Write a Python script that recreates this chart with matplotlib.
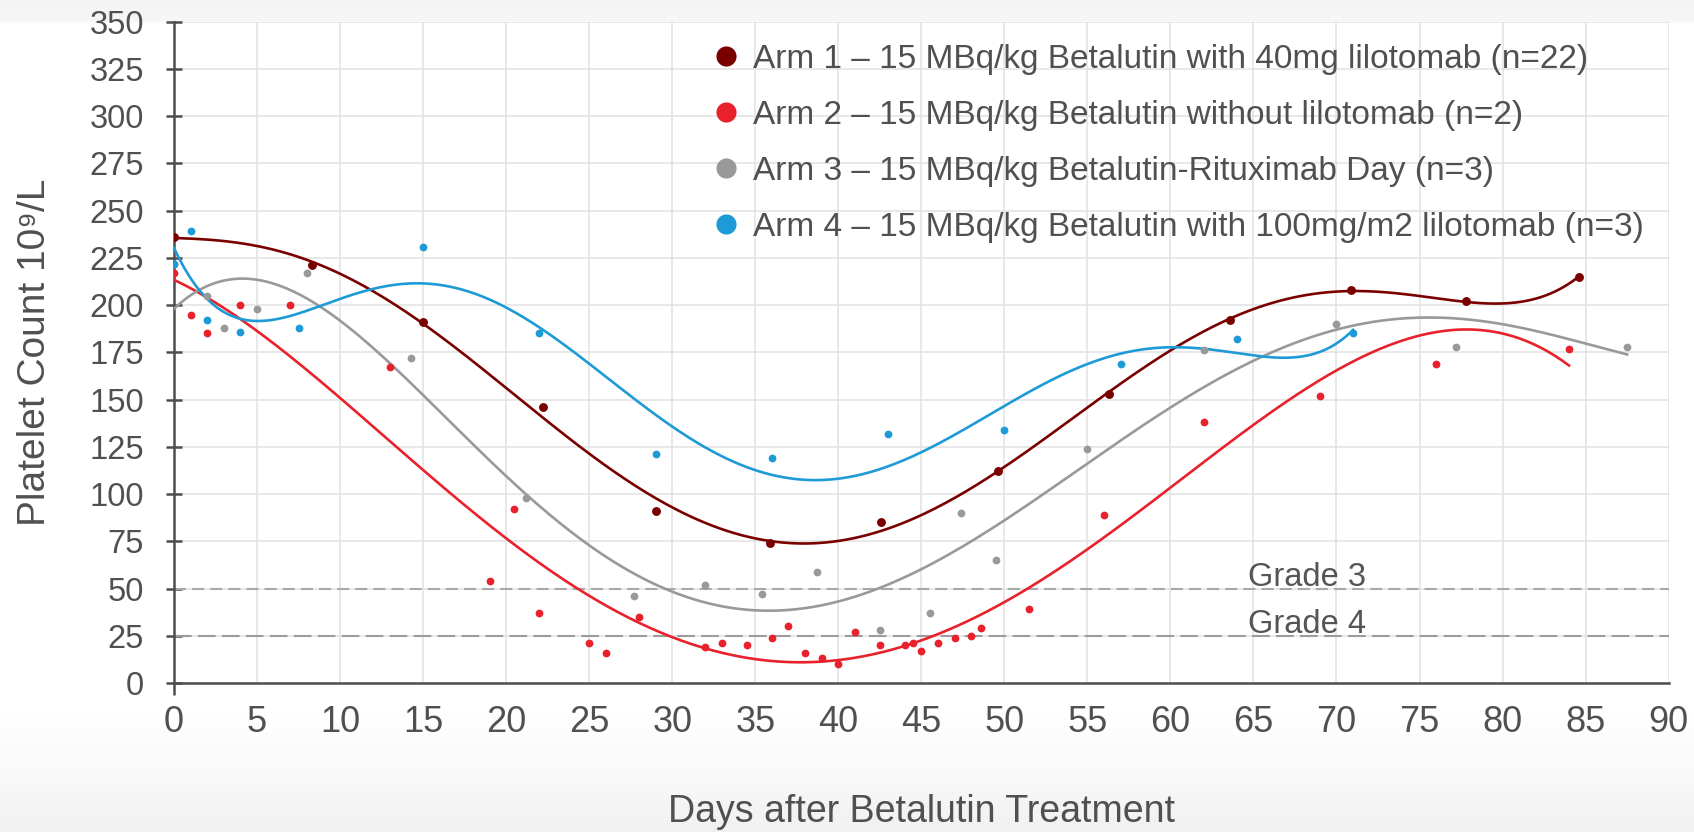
import numpy as np
import matplotlib
matplotlib.use('Agg')
import matplotlib.pyplot as plt
from matplotlib.lines import Line2D

plt.rcParams['font.family'] = ['Liberation Sans', 'DejaVu Sans']

# Arm 1 - 15 MBq/kg Betalutin with 40mg lilotomab
arm1_days = [0, 8.3, 15, 22.2, 29, 35.9, 42.6, 49.6, 56.3, 63.6, 70.9, 77.8, 84.6]
arm1_plt = [236, 221, 191, 146, 91, 74, 85, 112, 153, 192, 208, 202, 215]

# Arm 2 - 15 MBq/kg Betalutin without lilotomab
arm2_days = [0, 1, 2, 4, 7, 13, 19, 20.5, 22, 25, 26, 28, 32, 33, 34.5, 36, 37, 38, 39,
             40, 41, 42.5, 44, 44.5, 45, 46, 47, 48, 48.6, 51.5, 56, 62, 69, 76, 84]
arm2_plt = [217, 195, 185, 200, 200, 167, 54, 92, 37, 21, 16, 35, 19, 21, 20, 24, 30, 16, 13,
            10, 27, 20, 20, 21, 17, 21, 24, 25, 29, 39, 89, 138, 152, 169, 177]

# Arm 3 - 15 MBq/kg Betalutin-Rituximab Day (day 0 point sits under the arm 4 marker)
arm3_days = [0, 2, 3, 5, 8, 14.3, 21.2, 27.7, 32, 35.4, 38.7, 42.5, 45.5, 47.4, 49.5, 55, 62, 70, 77.2, 87.5]
arm3_plt = [222, 205, 188, 198, 217, 172, 98, 46, 52, 47, 59, 28, 37, 90, 65, 124, 176, 190, 178, 178]

# Arm 4 - 15 MBq/kg Betalutin with 100mg/m2 lilotomab
arm4_days = [0, 1, 2, 4, 7.5, 15, 22, 29, 36, 43, 50, 57, 64, 71]
arm4_plt = [222, 239, 192, 186, 188, 231, 185, 121, 119, 132, 134, 169, 182, 185]

arm_labels = [
    'Arm 1 \u2013 15 MBq/kg Betalutin with 40mg lilotomab (n=22)',
    'Arm 2 \u2013 15 MBq/kg Betalutin without lilotomab (n=2)',
    'Arm 3 \u2013 15 MBq/kg Betalutin-Rituximab Day (n=3)',
    'Arm 4 \u2013 15 MBq/kg Betalutin with 100mg/m2 lilotomab (n=3)',
]
arm_colors = ['#7a0000', '#e8212c', '#999999', '#1e9ad6']
trend_order = [6, 4, 5, 6]

grade_levels = [50, 25]
grade_labels = ['Grade 3', 'Grade 4']

W, H = 1694, 832
fig = plt.figure(figsize=(W / 100, H / 100), dpi=100)

# soft grey fade at the top and bottom of the picture
bg = fig.add_axes([0, 0, 1, 1], zorder=-10)
rows = np.arange(H)
shade = np.interp(rows, [0, 20, 24, 700, 770, 832], [0.955, 0.962, 1.0, 1.0, 0.975, 0.94])
bg.imshow(np.repeat(shade[:, None], 2, axis=1), cmap='gray', vmin=0, vmax=1, aspect='auto',
          extent=[0, 1, 0, 1], origin='upper')
bg.axis('off')

x0, x1 = 174.0, 1668.6
y0, y1 = 683.0, 21.7
ax = fig.add_axes([x0 / W, 1 - y0 / H, (x1 - x0) / W, (y0 - y1) / H])
ax.set_facecolor('white')

series = [(arm1_days, arm1_plt), (arm2_days, arm2_plt), (arm3_days, arm3_plt), (arm4_days, arm4_plt)]
for i, (d, p) in enumerate(series):
    d = np.array(d, dtype=float)
    p = np.array(p, dtype=float)
    # polynomial trendline over the span of each arm
    coef = np.polyfit(d, p, trend_order[i])
    xs = np.linspace(d.min(), d.max(), 400)
    ax.plot(xs, np.polyval(coef, xs), color=arm_colors[i], lw=1.9, zorder=3 + i * 0.1)
    ms = 6.4 if i == 0 else 5.6
    ax.plot(d, p, 'o', color=arm_colors[i], ms=ms, mec='none', zorder=4 + i * 0.1)

ax.axhline(grade_levels[0], color='#a8a8a8', lw=1.5, dashes=(5.8, 2.9), zorder=2)
ax.axhline(grade_levels[1], color='#9c9c9c', lw=1.5, dashes=(8.5, 3), zorder=2)
for lvl, lab in zip(grade_levels, grade_labels):
    ax.text(68.2, lvl + 1.2, lab, ha='center', va='baseline', fontsize=23.5, color='#555555')

ax.set_xlim(0, 90)
ax.set_ylim(0, 350)
ax.set_xticks(np.arange(0, 91, 5))
ax.set_yticks(np.arange(0, 351, 25))
ax.grid(True, color='#e2e2e2', lw=1.1, zorder=0)
ax.set_axisbelow(True)
for s in ['top', 'right']:
    ax.spines[s].set_visible(False)
for s in ['left', 'bottom']:
    ax.spines[s].set_color('#4d4d4d')
    ax.spines[s].set_linewidth(1.8)
ax.tick_params(axis='y', direction='inout', length=12, width=1.8, color='#4d4d4d',
               labelsize=23.5, labelcolor='#505050', pad=15.5)
ax.tick_params(axis='x', length=0, labelsize=26, labelcolor='#505050', pad=16)
ax.plot([0, 0], [0, -6.5], color='#4d4d4d', lw=1.8, clip_on=False, solid_capstyle='butt')

xl = ax.set_xlabel('Days after Betalutin Treatment', fontsize=27, color='#505050')
xl.set_va('baseline')
ax.xaxis.set_label_coords(0.5, -0.2097)
yl = ax.set_ylabel('Platelet Count 10\u2079/L', fontsize=28, color='#505050')
yl.set_va('center')
ax.yaxis.set_label_coords(-0.0931, 0.5)

handles = [Line2D([], [], marker='o', ls='none', color=c, ms=14.5, mec='none') for c in arm_colors]
leg = ax.legend(handles, arm_labels, loc='upper left', bbox_to_anchor=(0.361, 0.967),
                frameon=False, fontsize=24, handletextpad=0.42, labelspacing=0.75,
                handlelength=0.77, borderaxespad=0, borderpad=0)
for t in leg.get_texts():
    t.set_color('#505050')

fig.savefig('out.png', dpi=100)
